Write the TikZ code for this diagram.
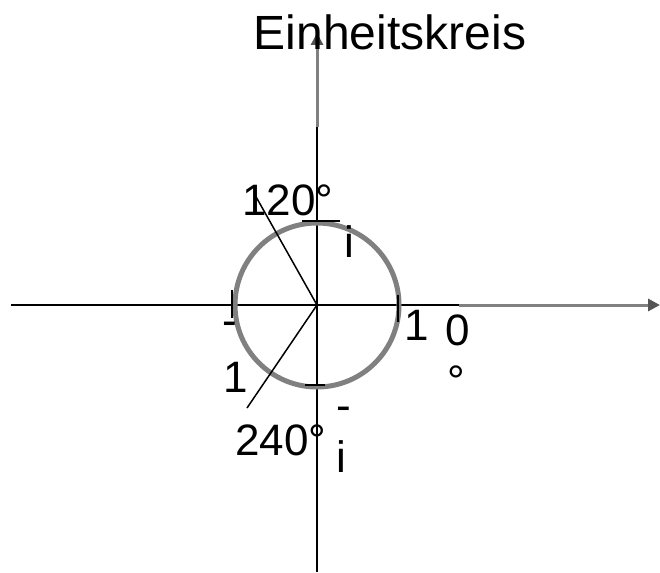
\documentclass[tikz,border=0pt]{standalone}
\usepackage{fontspec}
\setmainfont{Liberation Sans}
\usetikzlibrary{arrows.meta}
\definecolor{axisgray}{HTML}{808080}
\definecolor{tipgray}{HTML}{555555}
\tikzset{
  lbl/.style={inner sep=0pt, anchor=base, font=\fontsize{44}{50}\selectfont},
  ttl/.style={inner sep=0pt, anchor=base, font=\fontsize{48}{54}\selectfont},
  axisline/.style={black, line width=2pt},
  grayarrow/.style={axisgray, line width=3pt, -{Triangle[width=12pt,length=12pt,color=tipgray]}},
  tickmark/.style={black, line width=2.2pt},
  thinline/.style={black, line width=1.5pt},
  ring/.style={axisgray, line width=5pt}
}
\begin{document}
\begin{tikzpicture}[x=1pt,y=-1pt]
\useasboundingbox (0,0) rectangle (660,572);
\coordinate (O) at (317,305);
\coordinate (xl) at (11,305);
\coordinate (xm) at (459,305);
\coordinate (xr) at (660,305);
\coordinate (yb) at (317,572);
\coordinate (ym) at (317,127);
\coordinate (yt) at (317,33);
% axes
\draw[axisline] (xl) -- (xm);
\draw[grayarrow] (xm) -- (xr);
\draw[axisline] (yb) -- (ym);
\draw[grayarrow] (ym) -- (yt);
% circle
\draw[ring] (O) circle[radius=82];
% angle lines
\coordinate (a120) at (255,195);
\coordinate (a240) at (247,408);
\draw[thinline] (O) -- (a120);
\draw[thinline] (O) -- (a240);
% ticks
\coordinate (tt1) at (302,221); \coordinate (tt2) at (340,221);
\coordinate (tr1) at (398,295); \coordinate (tr2) at (398,322);
\coordinate (tl1) at (232,290); \coordinate (tl2) at (232,318);
\coordinate (tb1) at (305,385); \coordinate (tb2) at (325,385);
\draw[tickmark] (tt1) -- (tt2);
\draw[tickmark] (tr1) -- (tr2);
\draw[tickmark] (tl1) -- (tl2);
\draw[tickmark] (tb1) -- (tb2);
% labels
\node[ttl] (title) at (390,50) {Einheitskreis};
\node[lbl, anchor=base west] (l120) at (242,215) {120°};
\node[lbl, anchor=base west] (l240) at (235,455) {240°};
\node[lbl] (itop) at (349,257) {i};
\node[lbl] (one) at (417,340) {1};
\node[lbl] (zero) at (458,345) {0};
\node[lbl] (deg) at (456,396) {°};
\node[lbl] (minusl) at (230,335) {-};
\node[lbl] (onel) at (236,392) {1};
\node[lbl] (minusb) at (344,420) {-};
\node[lbl] (ibot) at (341,472) {i};
\end{tikzpicture}
\end{document}
